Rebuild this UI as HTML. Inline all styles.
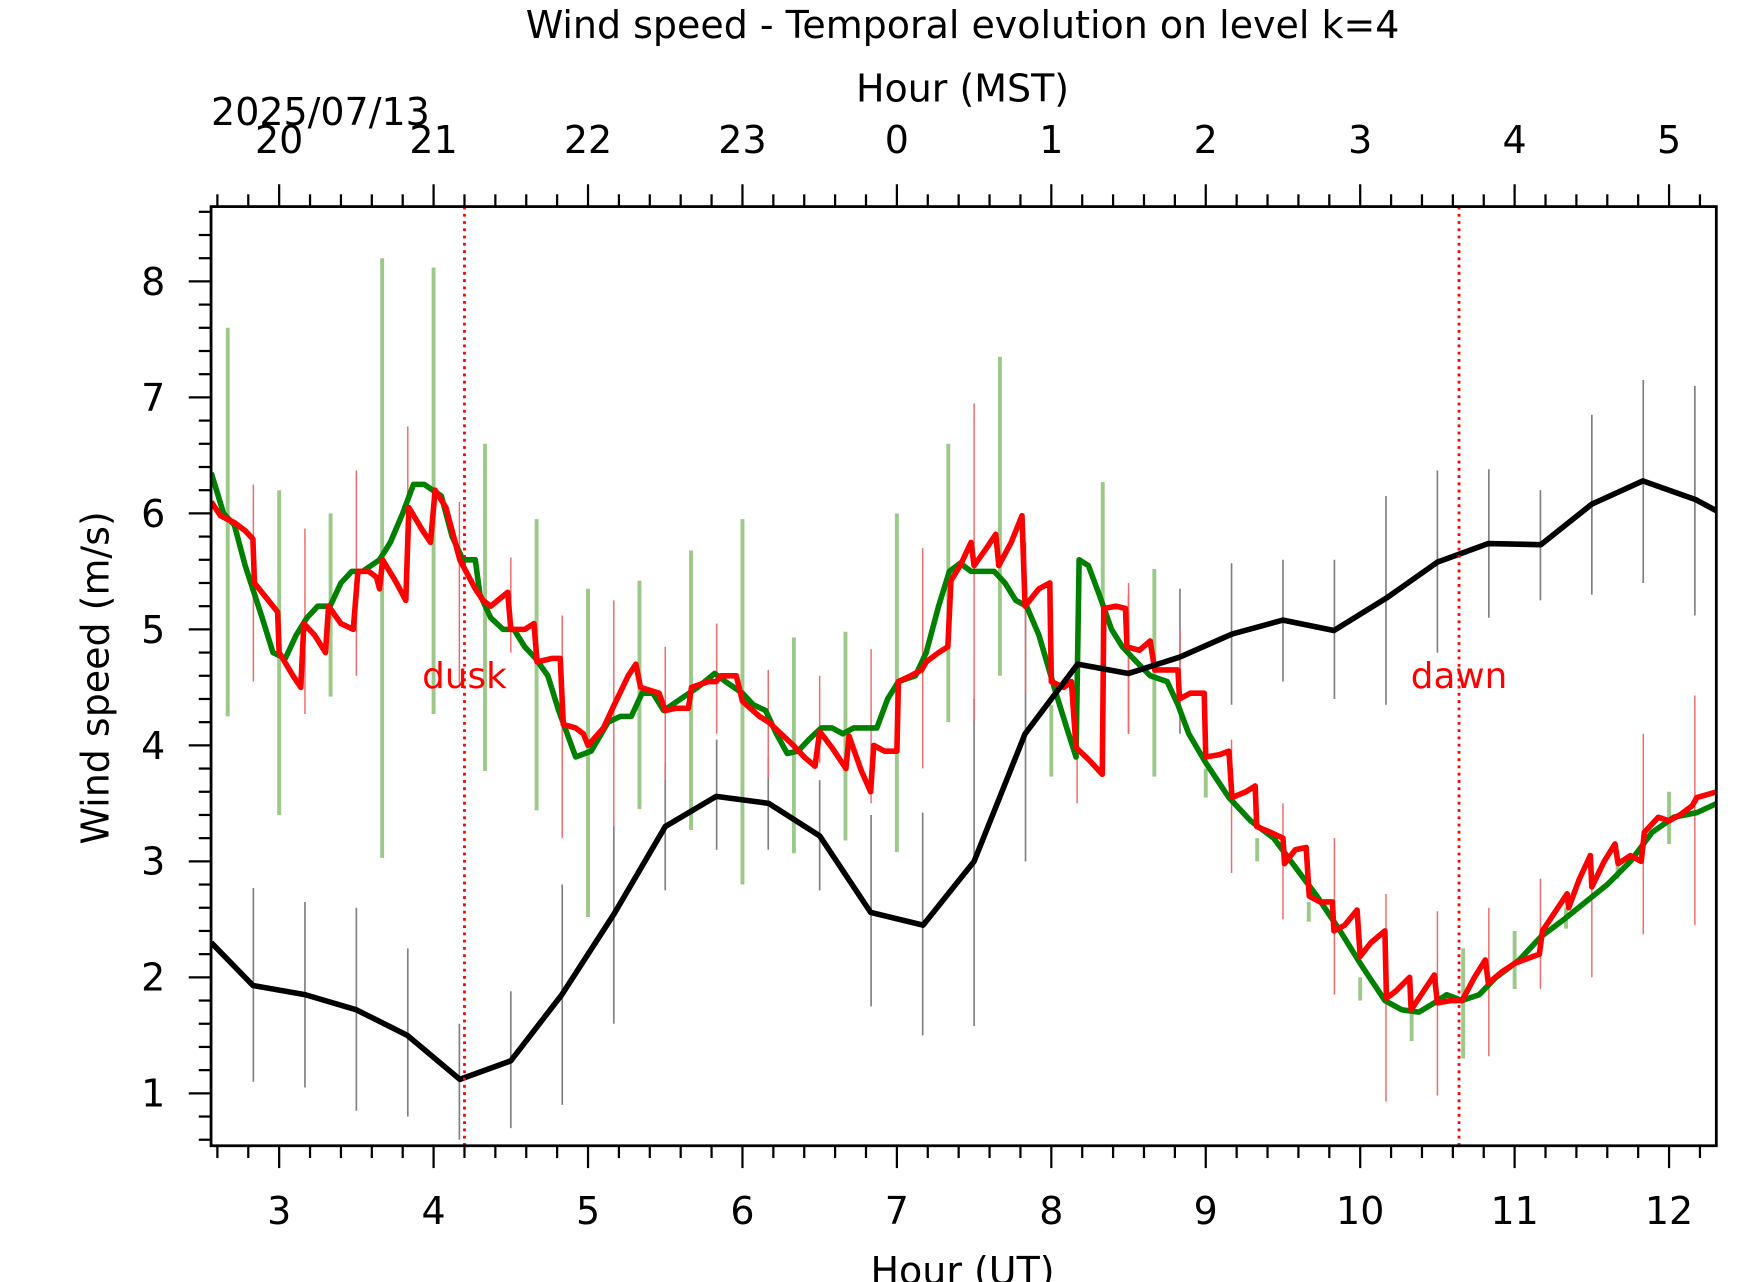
<!DOCTYPE html>
<html><head><meta charset="utf-8"><style>
html,body{margin:0;padding:0;background:#fff;}
svg{display:block;font-family:"DejaVu Sans","Liberation Sans",sans-serif;}
</style></head><body>
<svg id="chart" width="1742" height="1282" viewBox="0 0 1560 1148" preserveAspectRatio="none" xmlns="http://www.w3.org/2000/svg">
<g id="bars"></g><g id="lines"></g><g id="axes"></g>
</svg>
<script>
const blackT=[2.56,2.83,3.17,3.5,3.83,4.17,4.5,4.83,5.17,5.5,5.83,6.17,6.5,6.83,7.17,7.5,7.83,8.17,8.5,8.83,9.17,9.5,9.83,10.17,10.5,10.83,11.17,11.5,11.83,12.17,12.31];
const blackV=[2.3,1.93,1.85,1.72,1.5,1.12,1.28,1.85,2.55,3.3,3.56,3.5,3.22,2.56,2.45,3.0,4.1,4.7,4.62,4.76,4.96,5.08,4.99,5.27,5.58,5.74,5.73,6.08,6.28,6.12,6.02];
const barT=[2.833,3.167,3.5,3.833,4.167,4.5,4.833,5.167,5.5,5.833,6.167,6.5,6.833,7.167,7.5,7.833,8.167,8.5,8.833,9.167,9.5,9.833,10.167,10.5,10.833,11.167,11.5,11.833,12.167];
const blackLo=[1.1,1.05,0.85,0.8,0.6,0.7,0.9,1.6,2.75,3.1,3.1,2.75,1.75,1.5,1.58,3.0,4.0,4.1,4.1,4.35,4.55,4.4,4.35,4.8,5.1,5.25,5.3,5.4,5.12];
const blackHi=[2.77,2.65,2.6,2.25,1.6,1.88,2.8,3.3,3.85,4.05,3.9,3.7,3.4,3.42,4.4,5.2,5.4,5.3,5.35,5.57,5.6,5.6,6.15,6.37,6.38,6.2,6.85,7.15,7.1];
const redLo=[4.55,4.27,4.6,5.3,4.5,4.8,3.2,3.3,3.7,4.1,3.72,3.85,3.5,3.8,4.2,4.45,3.5,4.1,4.2,2.9,2.5,1.85,0.93,0.98,1.32,1.9,2.0,2.37,2.45];
const redHi=[6.25,5.87,6.37,6.75,6.1,5.62,5.12,5.25,4.85,5.05,4.65,4.6,4.83,5.7,6.95,5.75,4.45,5.4,5.0,4.05,3.5,3.2,2.72,2.57,2.6,2.85,3.0,4.1,4.43];
const gBarT=[2.667,3.0,3.333,3.667,4.0,4.333,4.667,5.0,5.333,5.667,6.0,6.333,6.667,7.0,7.333,7.667,8.0,8.333,8.667,9.0,9.333,9.667,10.0,10.333,10.667,11.0,11.333,11.667,12.0];
const greenLo=[4.25,3.4,4.42,3.03,4.27,3.78,3.44,2.52,3.45,3.27,2.8,3.07,3.18,3.08,4.2,4.6,3.73,4.4,3.73,3.55,3.0,2.48,1.8,1.45,1.3,1.9,2.42,2.85,3.15];
const greenHi=[7.6,6.2,6.0,8.2,8.12,6.6,5.95,5.35,5.42,5.68,5.95,4.93,4.98,6.0,6.6,7.35,4.35,6.27,5.52,3.8,3.2,2.65,2.0,1.7,2.25,2.4,2.6,3.05,3.6];
const greenT=[2.56,2.64,2.71,2.78,2.89,2.96,3.04,3.11,3.18,3.25,3.33,3.40,3.47,3.54,3.65,3.72,3.80,3.87,3.94,4.05,4.12,4.19,4.27,4.30,4.37,4.45,4.52,4.59,4.66,4.74,4.81,4.92,5.02,5.13,5.21,5.28,5.35,5.42,5.49,5.60,5.71,5.82,5.89,6.00,6.07,6.15,6.22,6.29,6.36,6.43,6.51,6.58,6.65,6.72,6.80,6.87,6.94,7.01,7.12,7.19,7.27,7.34,7.41,7.48,7.56,7.63,7.70,7.77,7.84,7.92,8.03,8.10,8.16,8.18,8.24,8.31,8.39,8.46,8.53,8.64,8.75,8.82,8.89,9.00,9.15,9.29,9.44,9.58,9.72,9.87,10.01,10.16,10.27,10.38,10.48,10.56,10.66,10.77,10.88,11.03,11.17,11.32,11.46,11.60,11.75,11.89,12.03,12.18,12.31];
const greenV=[6.35,6.0,5.9,5.55,5.1,4.8,4.75,4.95,5.1,5.2,5.2,5.4,5.5,5.5,5.6,5.75,6.0,6.25,6.25,6.15,5.8,5.6,5.6,5.3,5.1,5.0,5.0,4.85,4.75,4.6,4.3,3.9,3.95,4.2,4.25,4.25,4.45,4.45,4.3,4.4,4.5,4.62,4.55,4.45,4.35,4.3,4.1,3.93,3.95,4.05,4.15,4.15,4.1,4.15,4.15,4.15,4.4,4.55,4.6,4.8,5.2,5.5,5.57,5.5,5.5,5.5,5.4,5.25,5.2,4.95,4.45,4.15,3.9,5.6,5.55,5.3,5.0,4.85,4.75,4.6,4.55,4.35,4.1,3.85,3.55,3.35,3.2,2.95,2.7,2.4,2.1,1.8,1.72,1.7,1.78,1.85,1.8,1.85,2.0,2.15,2.35,2.5,2.65,2.8,3.0,3.25,3.38,3.42,3.5];
const redT=[2.56,2.62,2.71,2.78,2.83,2.84,2.93,2.99,3.00,3.09,3.14,3.16,3.23,3.30,3.32,3.40,3.48,3.51,3.58,3.63,3.65,3.67,3.76,3.82,3.84,3.93,3.98,4.01,4.08,4.17,4.27,4.32,4.37,4.48,4.50,4.59,4.65,4.67,4.77,4.82,4.84,4.92,4.97,5.00,5.10,5.17,5.26,5.31,5.34,5.46,5.50,5.57,5.65,5.67,5.78,5.83,5.86,5.96,6.00,6.11,6.17,6.25,6.33,6.40,6.47,6.50,6.58,6.67,6.69,6.77,6.83,6.85,6.92,7.00,7.01,7.09,7.16,7.19,7.27,7.33,7.35,7.41,7.48,7.50,7.58,7.64,7.66,7.74,7.81,7.83,7.92,7.99,8.00,8.08,8.13,8.16,8.24,8.33,8.34,8.42,8.48,8.49,8.57,8.64,8.67,8.75,8.82,8.83,8.90,8.99,9.00,9.09,9.15,9.17,9.26,9.32,9.33,9.42,9.50,9.51,9.58,9.65,9.67,9.74,9.82,9.83,9.90,9.98,10.00,10.07,10.16,10.17,10.23,10.32,10.33,10.41,10.48,10.50,10.59,10.66,10.74,10.81,10.83,10.92,11.00,11.06,11.16,11.18,11.28,11.34,11.35,11.42,11.49,11.50,11.58,11.65,11.67,11.75,11.82,11.84,11.93,12.00,12.07,12.15,12.18,12.31];
const redV=[6.1,5.98,5.92,5.85,5.78,5.4,5.25,5.15,4.8,4.6,4.5,5.05,4.95,4.8,5.2,5.05,5.0,5.5,5.5,5.45,5.35,5.6,5.4,5.25,6.05,5.85,5.75,6.2,6.05,5.6,5.35,5.25,5.2,5.32,5.0,5.0,5.05,4.72,4.75,4.75,4.18,4.15,4.1,4.0,4.15,4.35,4.6,4.7,4.5,4.45,4.3,4.32,4.32,4.5,4.55,4.55,4.6,4.6,4.38,4.25,4.2,4.1,4.0,3.9,3.82,4.12,3.98,3.8,4.08,3.78,3.6,4.0,3.95,3.95,4.55,4.6,4.65,4.72,4.8,4.85,5.42,5.55,5.75,5.55,5.7,5.82,5.55,5.75,5.98,5.2,5.35,5.4,4.55,4.5,4.55,3.98,3.88,3.75,5.18,5.2,5.18,4.85,4.82,4.9,4.65,4.65,4.65,4.4,4.45,4.45,3.9,3.92,3.95,3.55,3.6,3.65,3.3,3.25,3.2,2.98,3.1,3.12,2.7,2.65,2.65,2.4,2.45,2.58,2.18,2.3,2.4,1.82,1.88,2.0,1.72,1.88,2.02,1.78,1.8,1.8,2.0,2.15,1.95,2.05,2.12,2.15,2.2,2.4,2.6,2.72,2.6,2.85,3.05,2.78,3.0,3.15,2.98,3.05,3.0,3.25,3.38,3.35,3.4,3.48,3.55,3.6];
const yTicks=[1,2,3,4,5,6,7,8];
const xTicks=[3,4,5,6,7,8,9,10,11,12];
const mstLabels=["20","21","22","23","0","1","2","3","4","5"];
const duskT=4.20, dawnT=10.64;

const X0=189,X1=1537,Y0=185,Y1=1026,TMIN=2.559,TMAX=12.306,VMIN=0.548,VMAX=8.645;
const sx=t=>X0+(t-TMIN)/(TMAX-TMIN)*(X1-X0);
const sy=v=>Y1-(v-VMIN)/(VMAX-VMIN)*(Y1-Y0);
const NS="http://www.w3.org/2000/svg";
function mk(tag,parent,attrs){const e=document.createElementNS(NS,tag);for(const k in attrs)e.setAttribute(k,attrs[k]);parent.appendChild(e);return e;}
const bars=document.getElementById('bars'),lines=document.getElementById('lines'),axes=document.getElementById('axes');
const clip=mk('clipPath',document.getElementById('chart'),{id:'plotclip'});
mk('rect',clip,{x:X0,y:Y0,width:X1-X0,height:Y1-Y0});
bars.setAttribute('clip-path','url(#plotclip)');lines.setAttribute('clip-path','url(#plotclip)');

gBarT.forEach((t,i)=>{const l=mk('line',bars,{x1:sx(t),x2:sx(t),y1:sy(greenLo[i]),y2:sy(greenHi[i]),stroke:'#9cc98a','stroke-width':3.5});

});
barT.forEach((t,i)=>{const l=mk('line',bars,{x1:sx(t),x2:sx(t),y1:sy(blackLo[i]),y2:sy(blackHi[i]),stroke:'#808080','stroke-width':1.5});


const r=mk('line',bars,{x1:sx(t),x2:sx(t),y1:sy(redLo[i]),y2:sy(redHi[i]),stroke:'#ee6a6a','stroke-width':1.3});

});

function poly(T,V,color,w,name){const p=mk('polyline',lines,{points:T.map((t,i)=>sx(t)+','+sy(V[i])).join(' '),fill:'none',stroke:color,'stroke-width':w,'stroke-linejoin':'round'});

}
poly(greenT,greenV,'#008000',5,'green-series-line');
poly(redT,redV,'#ff0000',5,'red-series-line');
poly(blackT,blackV,'#000000',5,'black-series-line');

[[duskT,'dusk'],[dawnT,'dawn']].forEach(([t,lab])=>{const l=mk('line',lines,{x1:sx(t),x2:sx(t),y1:Y0,y2:Y1,stroke:'#ff0000','stroke-width':2.5,'stroke-dasharray':'2.5,4'});


const tx=mk('text',axes,{x:sx(t),y:616,'text-anchor':'middle','font-size':32,fill:'#ff0000'});tx.textContent=lab;

});

const frame=mk('rect',axes,{x:X0,y:Y0,width:X1-X0,height:Y1-Y0,fill:'none',stroke:'#000','stroke-width':2.5});


// x minor/major ticks
for(let k=Math.ceil(TMIN*5);k<=TMAX*5;k++){const t=k/5,x=sx(t),maj=k%5===0,L=maj?20:11;
mk('line',axes,{x1:x,x2:x,y1:Y1,y2:Y1+L,stroke:'#000','stroke-width':2});
mk('line',axes,{x1:x,x2:x,y1:Y0,y2:Y0-L,stroke:'#000','stroke-width':2});}
for(let k=Math.ceil(VMIN*5);k<=VMAX*5;k++){const v=k/5,y=sy(v),maj=k%5===0,L=maj?20:11;
mk('line',axes,{x1:X0,x2:X0-L,y1:y,y2:y,stroke:'#000','stroke-width':2});}
xTicks.forEach((t,i)=>{const a=mk('text',axes,{x:sx(t),y:1096,'text-anchor':'middle','font-size':34});a.textContent=t;


const b=mk('text',axes,{x:sx(t),y:137,'text-anchor':'middle','font-size':34});b.textContent=mstLabels[i];

});
yTicks.forEach(v=>{const a=mk('text',axes,{x:148,y:sy(v)+12,'text-anchor':'end','font-size':34});a.textContent=v;

});
function txt(s,attrs,name){const a=mk('text',axes,attrs);a.textContent=s;

}
txt('Wind speed - Temporal evolution on level k=4',{x:862,y:34,'text-anchor':'middle','font-size':34},'chart-title');
txt('Hour (MST)',{x:862,y:91,'text-anchor':'middle','font-size':34},'top-axis-title');
txt('2025/07/13',{x:189,y:112,'font-size':34},'date-label');
txt('Hour (UT)',{x:862,y:1150,'text-anchor':'middle','font-size':34},'x-axis-title');
txt('Wind speed (m/s)',{x:97,y:607,'text-anchor':'middle','font-size':34,transform:'rotate(-90 97 607)'},'y-axis-title');
</script>
</body></html>
